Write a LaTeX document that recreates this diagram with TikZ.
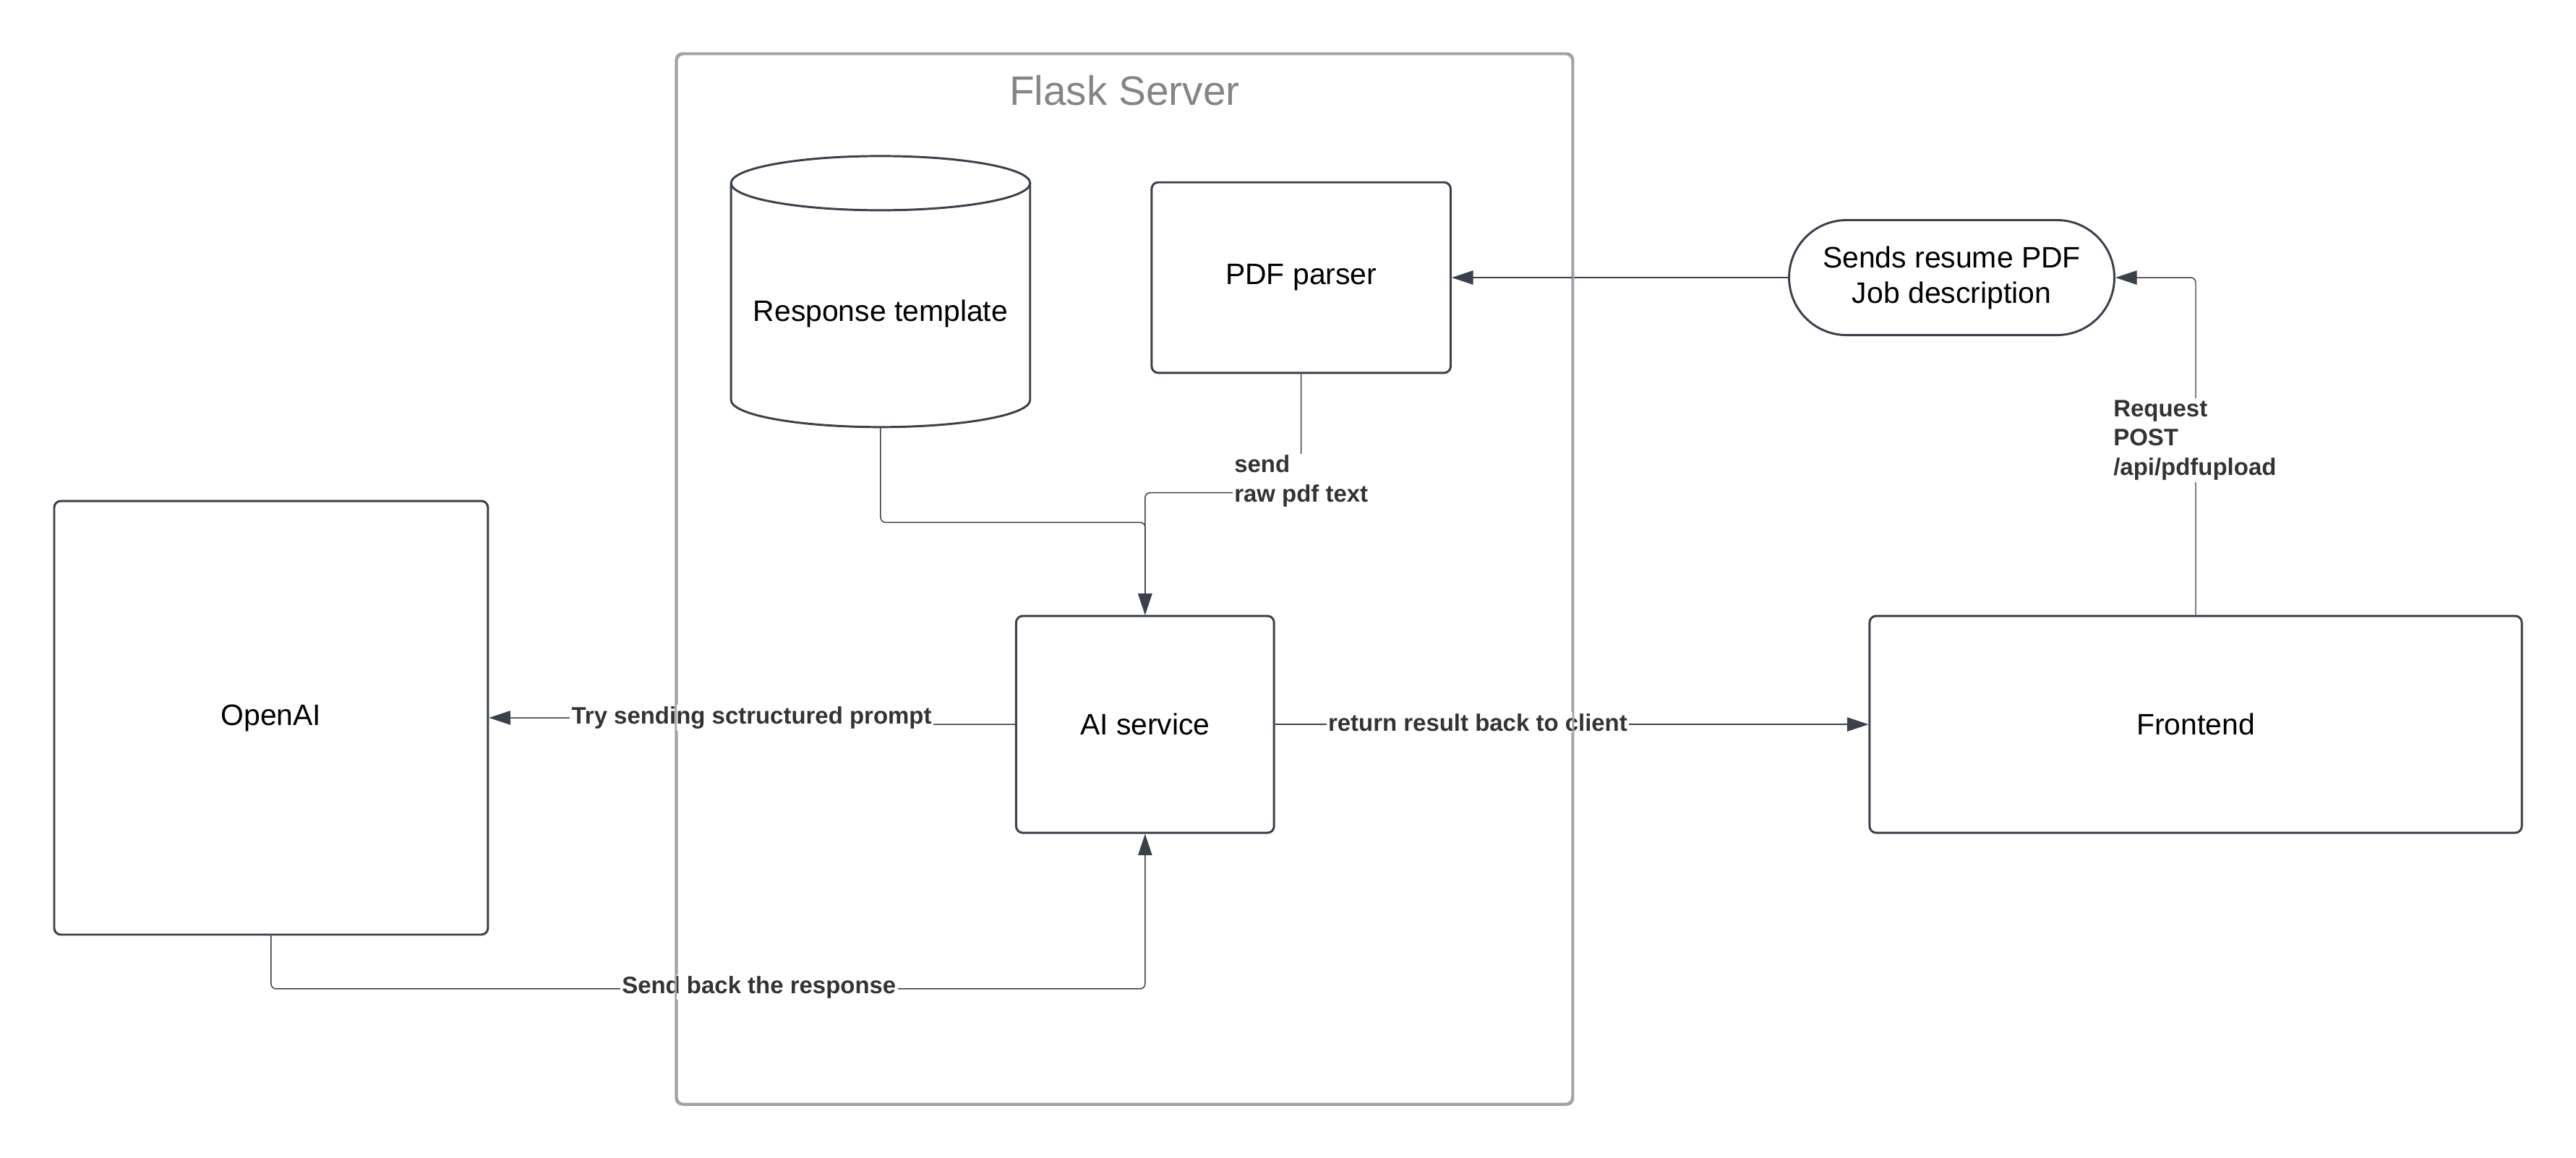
\documentclass[tikz,border=0pt]{standalone}
\usepackage{fontspec}
\setmainfont{Liberation Sans}
\usetikzlibrary{arrows.meta}
\definecolor{ln}{HTML}{3A414A}
\definecolor{lbl}{HTML}{333333}
\definecolor{cont}{HTML}{A0A3A6}
\definecolor{ttl}{HTML}{858585}
\begin{document}
\begin{tikzpicture}[x=1pt,y=-1pt,
  box/.style={draw=ln, line width=1.3pt, rounded corners=4pt, fill=white, inner sep=0pt,
    font=\fontsize{18}{21.6}\selectfont, align=center},
  contbox/.style={draw=cont, line width=1.2pt, rounded corners=4pt},
  conn/.style={draw=ln, line width=0.65pt, rounded corners=3pt},
  arr/.style={conn, -{Triangle[length=13pt,width=8.5pt]}},
  lab/.style={fill=white, inner sep=1pt, text=lbl, font=\bfseries\fontsize{14.5}{18}\selectfont, align=left}
]
\useasboundingbox[fill=white] (0,0) rectangle (1568,705);

% container
\node[contbox, fill=white, minimum width=545pt, minimum height=639pt, inner sep=0pt] (flask) at (684.5,352.5) {};
\node[text=ttl, font=\fontsize{25}{30}\selectfont] (flasktitle) at (684.5,55) {Flask Server};

% cylinder
\draw[ln, line width=1.3pt, fill=white] (445,111.5) -- (445,243.5)
  arc[start angle=180, end angle=0, x radius=91, y radius=16.5] -- (627,111.5);
\draw[ln, line width=1.3pt, fill=white] (536,111.5) ellipse [x radius=91, y radius=16.5];
\node[font=\fontsize{18}{21.6}\selectfont] (rt) at (536,191) {Response template};
\coordinate (rtbot) at (536,260);

% boxes
\node[box, minimum width=182pt, minimum height=116pt] (pdf) at (792,169) {PDF parser};
\node[box, rounded corners=35pt, minimum width=198pt, minimum height=70pt] (sends) at (1188,169) {Sends resume PDF\\Job description};
\node[box, minimum width=264pt, minimum height=264pt] (openai) at (165,437) {OpenAI};
\node[box, minimum width=157pt, minimum height=132pt] (ai) at (697,441) {AI service};
\node[box, minimum width=397pt, minimum height=132pt] (front) at (1336.5,441) {Frontend};

% connectors
\draw[arr] (sends.west) -- (pdf.east);
\draw[arr] (front.north) |- (sends.east);
\draw[arr] (pdf.south) -- (792,300) -| (ai.north);
\draw[arr] (rtbot) |- (697,318) -- (ai.north);
\draw[arr] (ai.west) -- (457,441) -- (457,437) -- (openai.east);
\draw[arr] (openai.south) |- (697,602) -- (ai.south);
\draw[arr] (ai.east) -- (front.west);

% labels
\node[lab] (l1) at (1336,268) {Request\\POST\\/api/pdfupload};
\node[lab] (l2) at (792,293) {send\\raw pdf text};
\node[lab] (l3) at (457.5,437) {Try sending sctructured prompt};
\node[lab] (l4) at (462,601) {Send back the response};
\node[lab] (l5) at (899.5,440) {return result back to client};

% container border on top
\draw[contbox] (flask.south west) rectangle (flask.north east);
\end{tikzpicture}
\end{document}
